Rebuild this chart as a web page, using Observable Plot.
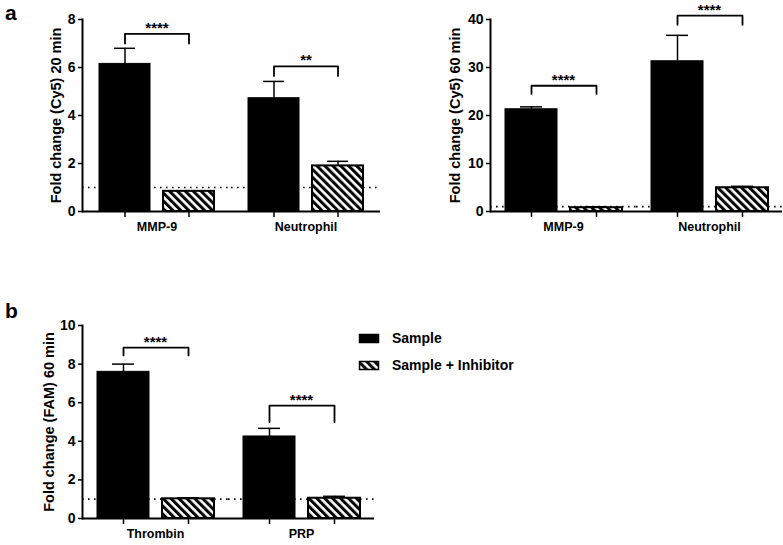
<!DOCTYPE html>
<html>
<head>
<meta charset="utf-8">
<script src="https://cdn.jsdelivr.net/npm/d3@7"></script>
<script src="https://cdn.jsdelivr.net/npm/@observablehq/plot@0.6"></script>
<style>
  body { margin: 0; background: #fff; }
  #fig { position: relative; width: 783px; height: 545px; background: #fff;
         font-family: "Liberation Sans", Arial, sans-serif; color: #000; overflow: hidden; }
  .panel { position: absolute; }
  .tag { position: absolute; font-weight: bold; font-size: 21px; line-height: 21px; }
  .panel g[aria-label="y-axis tick label"] { font-size: 14px; }
  .panel g[aria-label="y-axis label"] { font-size: 14.5px; }
</style>
</head>
<body>
<svg width="0" height="0" style="position:absolute">
  <defs>
    <pattern id="hatch" patternUnits="userSpaceOnUse" width="5.6" height="5.6" patternTransform="rotate(-45)">
      <rect width="5.6" height="5.6" fill="white"></rect>
      <rect width="3" height="5.6" fill="black"></rect>
    </pattern>
  </defs>
</svg>
<div id="fig">
  <div class="tag" style="left:5px;top:1.5px;">a</div>
  <div class="tag" style="left:5px;top:300px;">b</div>
  <div class="panel" id="a1" style="left:0px;top:0px;"></div>
  <div class="panel" id="a2" style="left:390px;top:0px;"></div>
  <div class="panel" id="b1" style="left:0px;top:290px;"></div>
  <div class="panel" id="legend" style="left:350px;top:320px;"></div>
</div>
<script>
// ---------- data ----------
const seriesNames = ["Sample", "Sample + Inhibitor"];

// Panel a (left): Cy5, 20 min
const catsA1 = ["MMP-9", "Neutrophil"];
const sampleA1 = [6.15, 4.72];
const sampleErrA1 = [0.65, 0.70];
const inhibA1 = [0.84, 1.90];
const inhibErrA1 = [0.02, 0.19];
const starsA1 = ["****", "**"];
const bracketTopA1 = [7.40, 6.05];
const bracketEndA1 = [7.00, 5.65];
const ticksA1 = [0, 2, 4, 6, 8];

// Panel a (right): Cy5, 60 min
const catsA2 = ["MMP-9", "Neutrophil"];
const sampleA2 = [21.3, 31.3];
const sampleErrA2 = [0.5, 5.4];
const inhibA2 = [0.8, 4.95];
const inhibErrA2 = [0.2, 0.3];
const starsA2 = ["****", "****"];
const bracketTopA2 = [26.2, 40.8];
const bracketEndA2 = [24.5, 38.9];
const ticksA2 = [0, 10, 20, 30, 40];

// Panel b: FAM, 60 min
const catsB = ["Thrombin", "PRP"];
const sampleB = [7.6, 4.25];
const sampleErrB = [0.40, 0.42];
const inhibB = [1.02, 1.05];
const inhibErrB = [0.05, 0.10];
const starsB = ["****", "****"];
const bracketTopB = [8.85, 5.85];
const bracketEndB = [8.45, 5.00];
const ticksB = [0, 2, 4, 6, 8, 10];

// ---------- helpers ----------
function rows(cats, s, se, h, he) {
  const out = [];
  cats.forEach((c, i) => {
    out.push({cat: c, series: seriesNames[0], value: s[i], err: se[i]});
    out.push({cat: c, series: seriesNames[1], value: h[i], err: he[i]});
  });
  return out;
}
function bracketRows(cats, top, end) {
  const out = [];
  cats.forEach((c, i) => {
    out.push({cat: c, series: seriesNames[0], y: end[i]});
    out.push({cat: c, series: seriesNames[0], y: top[i]});
    out.push({cat: c, series: seriesNames[1], y: top[i]});
    out.push({cat: c, series: seriesNames[1], y: end[i]});
  });
  return out;
}

function panel(o) {
  const data = rows(o.cats, o.s, o.se, o.h, o.he);
  const brackets = bracketRows(o.cats, o.top, o.end);
  return Plot.plot({
    width: o.width, height: o.height,
    marginLeft: o.ml, marginRight: o.mr, marginTop: o.mt, marginBottom: o.mb,
    style: {fontFamily: "Liberation Sans, Arial, sans-serif", fontWeight: "bold", fontSize: "13px", color: "black", background: "transparent"},
    fx: {domain: o.cats, padding: 0, axis: null},
    x: {domain: seriesNames, paddingInner: 0.2, paddingOuter: o.po, axis: null},
    y: {domain: [0, o.ticks[o.ticks.length - 1]], axis: null},
    marks: [
      Plot.ruleY([1], {strokeDasharray: "1.6,4.4", strokeWidth: 1.7}),
      Plot.ruleX(data, {fx: "cat", x: "series", y1: "value", y2: d => d.value + d.err, strokeWidth: 1.5}),
      Plot.tickY(data, {fx: "cat", x: "series", y: d => d.value + d.err, inset: 15, strokeWidth: 1.5}),
      Plot.barY(data.filter(d => d.series === seriesNames[0]), {fx: "cat", x: "series", y: "value", fill: "black", stroke: "black", strokeWidth: 1}),
      Plot.barY(data.filter(d => d.series === seriesNames[1]), {fx: "cat", x: "series", y: "value", fill: "url(#hatch)", stroke: "black", strokeWidth: 2}),
      Plot.line(brackets, {fx: "cat", x: "series", y: "y", z: "cat", strokeWidth: 1.8}),
      Plot.text(o.cats, {fx: d => d, y: (d, i) => o.top[i], text: (d, i) => o.stars[i], lineAnchor: "bottom", dy: -1, fontSize: 15}),
      Plot.text(o.cats, {fx: d => d, text: d => d, frameAnchor: "bottom", dy: 19, fontSize: 12.5}),
      Plot.ruleY([0], {strokeWidth: 2}),
      Plot.axisX({tickSize: 6, tickFormat: () => "", strokeWidth: 1.5, label: null}),
      Plot.axisY({ticks: o.ticks, tickSize: 4, tickPadding: 3, strokeWidth: 1.5, fontSize: 14,
                  label: o.label, labelAnchor: "center", labelOffset: o.lo, labelArrow: "none"}),
      Plot.frame({anchor: "left", facetAnchor: "left", strokeWidth: 2})
    ]
  });
}

document.getElementById("a1").append(panel({
  cats: catsA1, s: sampleA1, se: sampleErrA1, h: inhibA1, he: inhibErrA1,
  stars: starsA1, top: bracketTopA1, end: bracketEndA1, ticks: ticksA1,
  label: "Fold change (Cy5) 20 min",
  width: 390, height: 245, ml: 82, mr: 10, mt: 19, mb: 34, po: 0.25, lo: 32
}));
document.getElementById("a2").append(panel({
  cats: catsA2, s: sampleA2, se: sampleErrA2, h: inhibA2, he: inhibErrA2,
  stars: starsA2, top: bracketTopA2, end: bracketEndA2, ticks: ticksA2,
  label: "Fold change (Cy5) 60 min",
  width: 393, height: 245, ml: 100, mr: 1, mt: 19, mb: 34, po: 0.22, lo: 41
}));
document.getElementById("b1").append(panel({
  cats: catsB, s: sampleB, se: sampleErrB, h: inhibB, he: inhibErrB,
  stars: starsB, top: bracketTopB, end: bracketEndB, ticks: ticksB,
  label: "Fold change (FAM) 60 min",
  width: 390, height: 255, ml: 82, mr: 16, mt: 35, mb: 27, po: 0.22, lo: 39
}));

// ---------- legend ----------
(function () {
  const svg = d3.create("svg").attr("width", 220).attr("height", 60)
    .style("font-family", "Liberation Sans, Arial, sans-serif").style("font-weight", "bold").style("font-size", "14px");
  const fills = ["black", "url(#hatch)"];
  seriesNames.forEach((name, i) => {
    const g = svg.append("g").attr("transform", `translate(0,${i * 27})`);
    g.append("rect").attr("x", 9.5).attr("y", 14.5).attr("width", 19).attr("height", 8)
      .attr("fill", fills[i]).attr("stroke", "black").attr("stroke-width", 1.5);
    g.append("text").attr("x", 42).attr("y", 23).text(name);
  });
  document.getElementById("legend").append(svg.node());
})();
</script>
</body>
</html>
